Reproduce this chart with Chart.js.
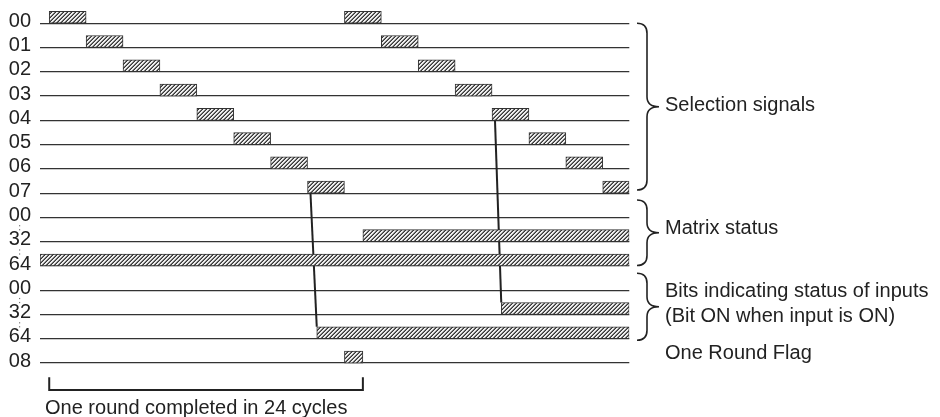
<!DOCTYPE html>
<html>
<head>
<meta charset="utf-8">
<script src="https://cdn.jsdelivr.net/npm/chart.js@4.4.1/dist/chart.umd.min.js"></script>
<style>
  html, body { margin: 0; padding: 0; background: #fff; }
  #wrap { width: 940px; height: 417px; position: relative; }
</style>
</head>
<body>
<div id="wrap"><canvas id="timing"></canvas></div>
<script>
// time axis is in scan cycles, rows are counted from the top
const timeStart = -0.25;
const timeEnd = 15.72;
const rowLabels = ['00', '01', '02', '03', '04', '05', '06', '07', '00', '32', '64', '00', '32', '64', '08'];

// ON periods per row  [from, to] in cycles
const selectionOn = [
  [[0, 1], [8, 9]],
  [[1, 2], [9, 10]],
  [[2, 3], [10, 11]],
  [[3, 4], [11, 12]],
  [[4, 5], [12, 13]],
  [[5, 6], [13, 14]],
  [[6, 7], [14, 15]],
  [[7, 8], [15, timeEnd]]
];
const matrixOn = [[], [[8.5, timeEnd]], [[timeStart, timeEnd]]];
const inputsOn = [[], [[12.25, timeEnd]], [[7.25, timeEnd]]];
const flagOn = [[8, 8.5]];

// the two read-out lines (cycle, row)
const readLines = [
  [[7.08, 7], [7.25, 12.5]],
  [[12.08, 4], [12.25, 11.5]]
];

const groupNotes = [
  { text: ['Selection signals'], from: 0, to: 6.87, at: [3.38] },
  { text: ['Matrix status'], from: 7.28, to: 9.98, at: [8.44] },
  { text: ['Bits indicating status of inputs', '(Bit ON when input is ON)'], from: 10.3, to: 13.06, at: [11.06, 12.06] },
  { text: ['One Round Flag'], from: null, to: null, at: [13.6] }
];
const roundText = 'One round completed in 24 cycles';
const roundSpan = [0, 8.5];

const ink = '#222';
const font = '20px "Liberation Sans", Arial, sans-serif';

function hatch() {
  const n = 4;
  const c = document.createElement('canvas');
  c.width = n; c.height = n;
  const g = c.getContext('2d');
  const img = g.createImageData(n, n);
  for (let y = 0; y < n; y++) {
    for (let x = 0; x < n; x++) {
      const k = (x + y) % n;
      const v = k === 3 ? 55 : (k === 2 ? 120 : 238);
      const i = (y * n + x) * 4;
      img.data[i] = v; img.data[i + 1] = v; img.data[i + 2] = v; img.data[i + 3] = 255;
    }
  }
  g.putImageData(img, 0, 0);
  return g.createPattern(c, 'repeat');
}
const pattern = hatch();

function pulses(rows, firstRow) {
  const out = [];
  rows.forEach((list, i) => {
    list.forEach(p => out.push({ x: p, y: firstRow + i - 0.25 }));
  });
  return out;
}

const barStyle = {
  type: 'bar',
  indexAxis: 'y',
  grouped: false,
  barThickness: 12,
  backgroundColor: pattern,
  borderColor: '#333',
  borderWidth: 1,
  borderSkipped: false
};

const datasets = [
  Object.assign({ data: pulses(selectionOn, 0) }, barStyle),
  Object.assign({ data: pulses(matrixOn, 8) }, barStyle),
  Object.assign({ data: pulses(inputsOn, 11) }, barStyle),
  Object.assign({ data: pulses([flagOn], 14) }, barStyle)
];
readLines.forEach(l => {
  datasets.push({
    type: 'line',
    data: l.map(p => ({ x: p[0], y: p[1] })),
    borderColor: ink,
    borderWidth: 2,
    pointRadius: 0,
    fill: false
  });
});

function brace(ctx, x, y1, y2) {
  const xm = x + 10, xt = x + 22, ym = (y1 + y2) / 2;
  ctx.beginPath();
  ctx.moveTo(x, y1);
  ctx.quadraticCurveTo(xm, y1, xm, y1 + 10);
  ctx.lineTo(xm, ym - 10);
  ctx.quadraticCurveTo(xm, ym, xt, ym);
  ctx.quadraticCurveTo(xm, ym, xm, ym + 10);
  ctx.lineTo(xm, y2 - 10);
  ctx.quadraticCurveTo(xm, y2, x, y2);
  ctx.stroke();
}

const notes = {
  id: 'notes',
  afterDraw(chart) {
    const ctx = chart.ctx;
    const xs = chart.scales.x, ys = chart.scales.y;
    ctx.save();
    ctx.strokeStyle = ink;
    ctx.fillStyle = ink;
    ctx.font = font;
    ctx.textBaseline = 'middle';
    ctx.textAlign = 'left';
    ctx.lineWidth = 1.6;
    groupNotes.forEach(n => {
      if (n.from !== null) brace(ctx, 637, ys.getPixelForValue(n.from), ys.getPixelForValue(n.to));
      n.text.forEach((t, i) => ctx.fillText(t, 665, ys.getPixelForValue(n.at[i])));
    });

    // round bracket under the rows
    const bx1 = xs.getPixelForValue(roundSpan[0]), bx2 = xs.getPixelForValue(roundSpan[1]);
    const by1 = ys.getPixelForValue(14.58), by2 = ys.getPixelForValue(15.11);
    ctx.lineWidth = 2;
    ctx.beginPath();
    ctx.moveTo(bx1, by1); ctx.lineTo(bx1, by2); ctx.lineTo(bx2, by2); ctx.lineTo(bx2, by1);
    ctx.stroke();
    ctx.fillText(roundText, 45, ys.getPixelForValue(15.86));

    // dotted joins between the word rows labels
    ctx.fillStyle = '#777';
    [8, 9, 11, 12].forEach(r => {
      const mid = (ys.getPixelForValue(r) + ys.getPixelForValue(r + 1)) / 2 - 2;
      ctx.fillRect(19, mid - 2.5, 1.2, 1.2);
      ctx.fillRect(19, mid + 1.5, 1.2, 1.2);
    });
    ctx.restore();
  }
};

new Chart(document.getElementById('timing'), {
  data: { datasets: datasets },
  options: {
    responsive: true,
    maintainAspectRatio: false,
    animation: false,
    layout: { padding: { left: 0, right: 310.7, top: 0, bottom: 0 } },
    plugins: { legend: { display: false }, tooltip: { enabled: false } },
    scales: {
      x: {
        type: 'linear',
        min: timeStart,
        max: timeEnd,
        offset: false,
        display: false
      },
      y: {
        type: 'linear',
        reverse: true,
        min: -0.96,
        max: 16.22,
        offset: false,
        afterBuildTicks: s => { s.ticks = rowLabels.map((_, i) => ({ value: i })); },
        afterFit: s => { s.width = 40; s.paddingTop = 0; s.paddingBottom = 0; },
        ticks: {
          callback: v => rowLabels[v] !== undefined ? rowLabels[v] : '',
          color: ink,
          font: { family: '"Liberation Sans", Arial, sans-serif', size: 20 },
          padding: 9,
          labelOffset: -2,
          autoSkip: false
        },
        grid: { color: '#333', lineWidth: 1.3, drawTicks: false, offset: false },
        border: { display: false }
      }
    }
  },
  plugins: [notes]
});
</script>
</body>
</html>
